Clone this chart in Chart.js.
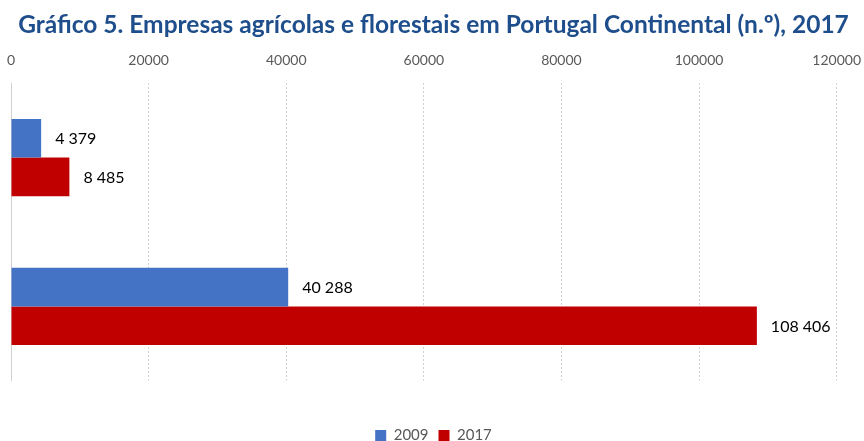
<!DOCTYPE html>
<html>
<head>
<meta charset="utf-8">
<script src="https://cdn.jsdelivr.net/npm/chart.js@4/dist/chart.umd.min.js"></script>
<style>
  html, body { margin: 0; padding: 0; background: #fff; }
  #wrap { width: 864px; height: 441px; }
</style>
</head>
<body>
<div id="wrap"><canvas id="chart"></canvas></div>
<script>
// categorias (sem rótulo visível no gráfico original)
var categorias = ['Florestais', 'Agrícolas'];
var anos = ['2009', '2017'];
var valores2009 = [4379, 40288];
var valores2017 = [8485, 108406];
var ticksX = [0, 20000, 40000, 60000, 80000, 100000, 120000];

function formatNum(v) {
    return String(v).replace(/\B(?=(\d{3})+(?!\d))/g, ' ');
}

// rótulos de dados à direita das barras
var rotulos = {
    id: 'rotulos',
    afterDatasetsDraw: function(chart) {
        var ctx = chart.ctx;
        ctx.save();
        ctx.font = '16px Lato, "Open Sans", sans-serif';
        ctx.fillStyle = '#000';
        ctx.textBaseline = 'middle';
        chart.data.datasets.forEach(function(ds, i) {
            chart.getDatasetMeta(i).data.forEach(function(bar, j) {
                ctx.fillText(formatNum(ds.data[j]), bar.x + 14, bar.y + 1);
            });
        });
        ctx.restore();
    }
};

var ctx = document.getElementById('chart').getContext('2d');
var grafico = new Chart(ctx, {
    type: 'bar',
    data: {
        labels: categorias,
        datasets: [{
            label: anos[0],
            data: valores2009,
            backgroundColor: '#4472C4',
            borderWidth: 0,
            categoryPercentage: 0.52,
            barPercentage: 1
        }, {
            label: anos[1],
            data: valores2017,
            backgroundColor: '#C00000',
            borderWidth: 0,
            categoryPercentage: 0.52,
            barPercentage: 1
        }]
    },
    options: {
        indexAxis: 'y',
        responsive: true,
        maintainAspectRatio: false,
        animation: false,
        layout: { padding: { left: 3, right: 0, top: 0, bottom: -12 } },
        scales: {
            x: {
                position: 'top',
                min: 0,
                max: 120000,
                afterBuildTicks: function(axis) {
                    axis.ticks = ticksX.map(function(v) { return { value: v }; });
                },
                ticks: {
                    color: '#595959',
                    font: { family: 'Lato, "Open Sans", sans-serif', size: 14 },
                    padding: 3,
                    maxRotation: 0,
                    callback: function(v) { return String(v); }
                },
                grid: {
                    color: '#d0d0d0',
                    drawTicks: true,
                    tickLength: 11,
                    tickColor: 'rgba(0,0,0,0)',
                    lineWidth: 1
                },
                border: { display: false, dash: [2, 2] }
            },
            y: {
                ticks: { display: false },
                grid: { display: false },
                border: { display: true, color: '#d0d0d0', width: 1 }
            }
        },
        plugins: {
            title: {
                display: true,
                text: 'Gráfico 5. Empresas agrícolas e florestais em Portugal Continental (n.º), 2017',
                color: '#1F4E8C',
                font: { family: 'Lato, "Open Sans", sans-serif', size: 24.5, weight: 'bold' },
                padding: { top: 10, bottom: 10 }
            },
            legend: {
                position: 'bottom',
                title: { display: true, text: '', font: { size: 1 }, padding: { top: 36, bottom: 0 } },
                labels: {
                    color: '#595959',
                    font: { family: 'Lato, "Open Sans", sans-serif', size: 15 },
                    boxWidth: 11,
                    boxHeight: 11,
                    padding: 10
                }
            },
            tooltip: { enabled: false }
        }
    },
    plugins: [rotulos]
});
</script>
</body>
</html>
